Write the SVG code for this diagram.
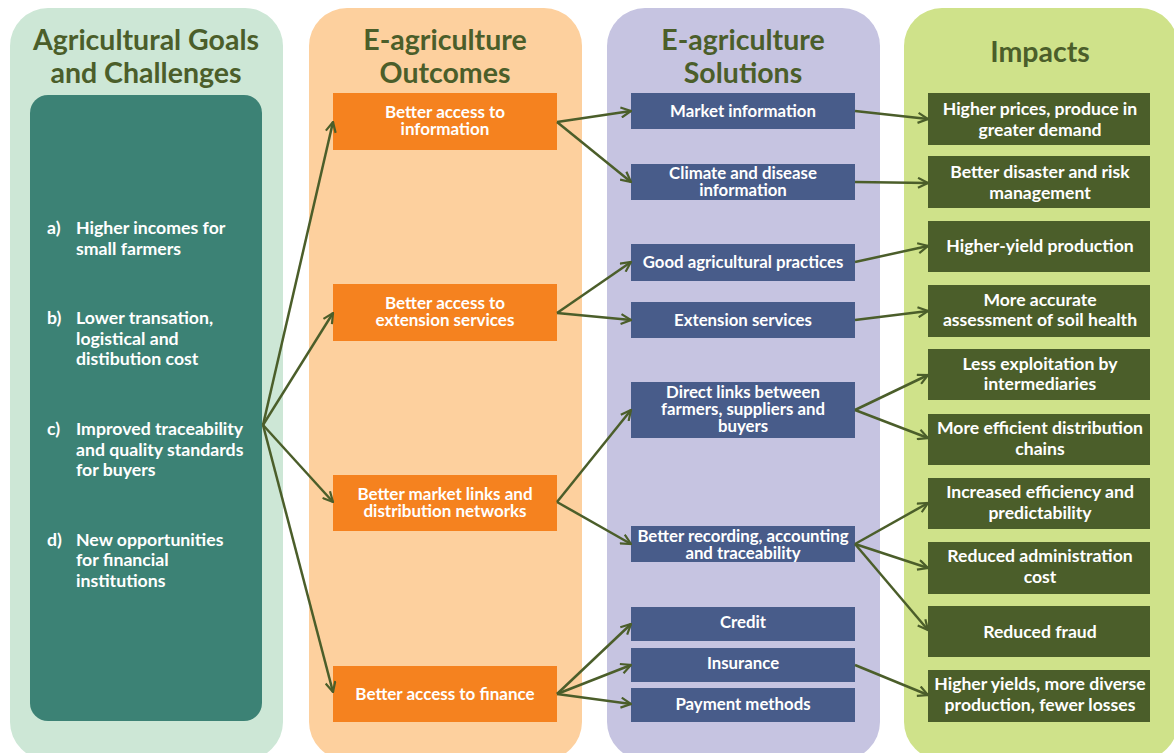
<svg xmlns="http://www.w3.org/2000/svg" width="1174" height="753" viewBox="0 0 1174 753">
<defs>
<marker id="arr" viewBox="0 0 12 12" refX="11" refY="6" markerWidth="12" markerHeight="12" markerUnits="userSpaceOnUse" orient="auto">
<path d="M1,1 L11,6 L1,11" fill="none" stroke="#4B5E2A" stroke-width="2.2"/>
</marker>
<style>
.hd{font-family:Lato,"Open Sans",sans-serif;font-weight:bold;font-size:28.5px;fill:#4B5E2A;text-anchor:middle}
.t{font-family:Lato,"Open Sans",sans-serif;font-weight:bold;fill:#fff;text-anchor:middle}
.o{fill:#F5821F}.b{fill:#485C8A}.g{fill:#4B5E2A}
.ot{font-size:17px}.bt{font-size:16.8px}.gt{font-size:17.6px}
.lt{font-family:Lato,"Open Sans",sans-serif;font-weight:bold;fill:#fff;font-size:17.7px}
.c path{fill:none;stroke:#4B5E2A;stroke-width:2.5;marker-end:url(#arr)}
</style>
</defs>
<rect width="1174" height="753" fill="#fff"/>
<g id="panels">
<rect x="10" y="8" width="273" height="752" rx="38" fill="#CDE7D6"/>
<rect x="309" y="8" width="273" height="752" rx="38" fill="#FDD09E"/>
<rect x="607" y="8" width="273" height="752" rx="38" fill="#C6C4E1"/>
<rect x="904" y="8" width="274" height="752" rx="38" fill="#CFE28A"/>
</g>
<g id="headers">
<text class="hd" x="146" y="50">Agricultural Goals</text>
<text class="hd" x="146" y="83">and Challenges</text>
<text class="hd" x="445" y="50">E-agriculture</text>
<text class="hd" x="445" y="83">Outcomes</text>
<text class="hd" x="743" y="50">E-agriculture</text>
<text class="hd" x="743" y="83">Solutions</text>
<text class="hd" x="1040" y="62">Impacts</text>
</g>
<g id="goals">
<rect x="30" y="95" width="232" height="626" rx="18" fill="#3C8275"/>
<text class="lt" x="47" y="234">a)</text>
<text class="lt" x="76" y="234">Higher incomes for</text>
<text class="lt" x="76" y="255">small farmers</text>
<text class="lt" x="47" y="324">b)</text>
<text class="lt" x="76" y="324">Lower transation,</text>
<text class="lt" x="76" y="345">logistical and</text>
<text class="lt" x="76" y="365">distibution cost</text>
<text class="lt" x="47" y="435">c)</text>
<text class="lt" x="76" y="435">Improved traceability</text>
<text class="lt" x="76" y="456">and quality standards</text>
<text class="lt" x="76" y="476">for buyers</text>
<text class="lt" x="47" y="546">d)</text>
<text class="lt" x="76" y="546">New opportunities</text>
<text class="lt" x="76" y="566">for financial</text>
<text class="lt" x="76" y="587">institutions</text>
</g>
<g id="out-info"><rect class="o" x="333" y="93" width="224" height="57"/><text class="t ot" x="445" y="118">Better access to</text><text class="t ot" x="445" y="135">information</text></g>
<g id="out-ext"><rect class="o" x="333" y="284" width="224" height="57"/><text class="t ot" x="445" y="309">Better access to</text><text class="t ot" x="445" y="326">extension services</text></g>
<g id="out-market"><rect class="o" x="333" y="475" width="224" height="56"/><text class="t ot" x="445" y="500">Better market links and</text><text class="t ot" x="445" y="517">distribution networks</text></g>
<g id="out-fin"><rect class="o" x="333" y="666" width="224" height="56"/><text class="t ot" x="445" y="700">Better access to finance</text></g>
<g id="sol-market"><rect class="b" x="631" y="93" width="224" height="36"/><text class="t bt" x="743" y="117">Market information</text></g>
<g id="sol-climate"><rect class="b" x="631" y="164" width="224" height="36"/><text class="t bt" x="743" y="179">Climate and disease</text><text class="t bt" x="743" y="196">information</text></g>
<g id="sol-gap"><rect class="b" x="631" y="244" width="224" height="37"/><text class="t bt" x="743" y="268">Good agricultural practices</text></g>
<g id="sol-ext"><rect class="b" x="631" y="302" width="224" height="36"/><text class="t bt" x="743" y="326">Extension services</text></g>
<g id="sol-links"><rect class="b" x="631" y="382" width="224" height="56"/><text class="t bt" x="743" y="398">Direct links between</text><text class="t bt" x="743" y="415">farmers, suppliers and</text><text class="t bt" x="743" y="432">buyers</text></g>
<g id="sol-rec"><rect class="b" x="631" y="526" width="224" height="36"/><text class="t bt" x="743" y="542">Better recording, accounting</text><text class="t bt" x="743" y="559">and traceability</text></g>
<g id="sol-credit"><rect class="b" x="631" y="607" width="224" height="34"/><text class="t bt" x="743" y="628">Credit</text></g>
<g id="sol-ins"><rect class="b" x="631" y="648" width="224" height="34"/><text class="t bt" x="743" y="669">Insurance</text></g>
<g id="sol-pay"><rect class="b" x="631" y="688" width="224" height="34"/><text class="t bt" x="743" y="710">Payment methods</text></g>
<g id="imp1"><rect class="g" x="928" y="93" width="222" height="52"/><text class="t gt" x="1040" y="115">Higher prices, produce in</text><text class="t gt" x="1040" y="136">greater demand</text></g>
<g id="imp2"><rect class="g" x="928" y="156" width="222" height="52"/><text class="t gt" x="1040" y="178">Better disaster and risk</text><text class="t gt" x="1040" y="199">management</text></g>
<g id="imp3"><rect class="g" x="928" y="221" width="222" height="51"/><text class="t gt" x="1040" y="252">Higher-yield production</text></g>
<g id="imp4"><rect class="g" x="928" y="285" width="222" height="52"/><text class="t gt" x="1040" y="306">More accurate</text><text class="t gt" x="1040" y="326">assessment of soil health</text></g>
<g id="imp5"><rect class="g" x="928" y="349" width="222" height="51"/><text class="t gt" x="1040" y="370">Less exploitation by</text><text class="t gt" x="1040" y="390">intermediaries</text></g>
<g id="imp6"><rect class="g" x="928" y="414" width="222" height="51"/><text class="t gt" x="1040" y="434">More efficient distribution</text><text class="t gt" x="1040" y="455">chains</text></g>
<g id="imp7"><rect class="g" x="928" y="478" width="222" height="51"/><text class="t gt" x="1040" y="498">Increased efficiency and</text><text class="t gt" x="1040" y="519">predictability</text></g>
<g id="imp8"><rect class="g" x="928" y="542" width="222" height="52"/><text class="t gt" x="1040" y="562">Reduced administration</text><text class="t gt" x="1040" y="583">cost</text></g>
<g id="imp9"><rect class="g" x="928" y="606" width="222" height="51"/><text class="t gt" x="1040" y="638">Reduced fraud</text></g>
<g id="imp10"><rect class="g" x="928" y="670" width="222" height="52"/><text class="t gt" x="1040" y="690">Higher yields, more diverse</text><text class="t gt" x="1040" y="711">production, fewer losses</text></g>
<g id="connectors" class="c">
<path d="M263,425 L333,122"/>
<path d="M263,425 L333,313"/>
<path d="M263,425 L333,502"/>
<path d="M263,425 L333,692"/>
<path d="M557,122 L631,111"/>
<path d="M557,122 L631,182"/>
<path d="M557,313 L631,262"/>
<path d="M557,313 L631,320"/>
<path d="M557,502 L631,410"/>
<path d="M557,502 L631,544"/>
<path d="M557,694 L631,624"/>
<path d="M557,694 L631,665"/>
<path d="M557,694 L631,704"/>
<path d="M855,111 L928,119"/>
<path d="M855,182 L928,183"/>
<path d="M855,262 L928,246"/>
<path d="M855,320 L928,311"/>
<path d="M855,410 L928,375"/>
<path d="M855,410 L928,438"/>
<path d="M855,544 L928,503"/>
<path d="M855,544 L928,568"/>
<path d="M855,544 L928,630"/>
<path d="M855,665 L928,695"/>
</g>
</svg>
